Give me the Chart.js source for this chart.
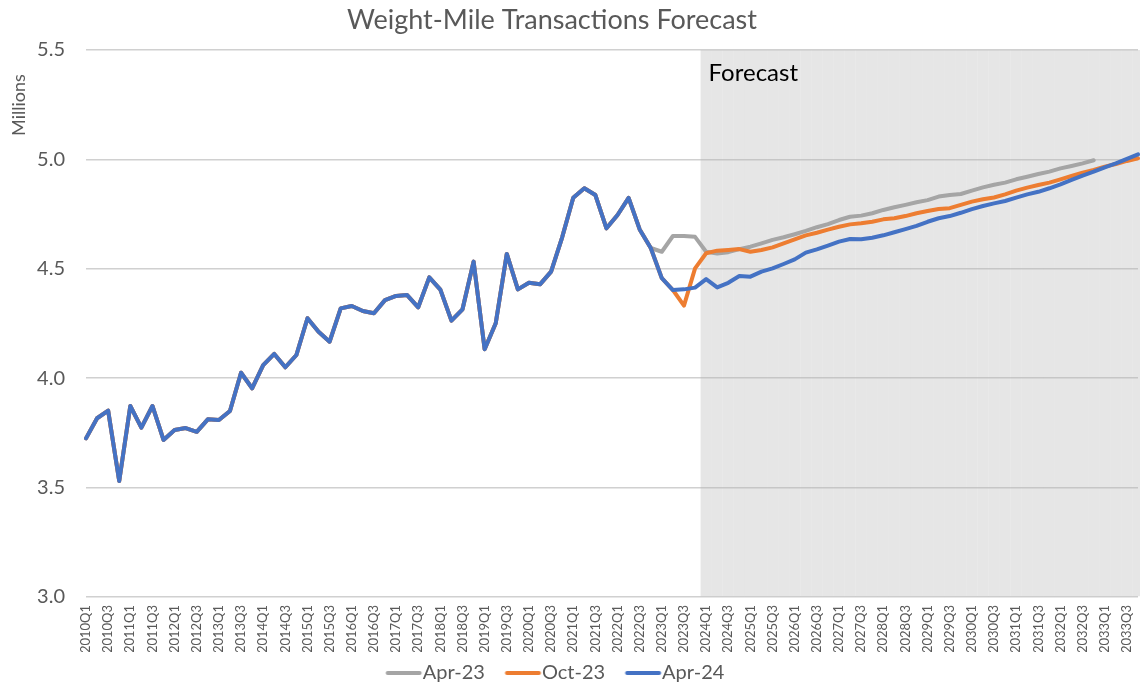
<!DOCTYPE html>
<html>
<head>
<meta charset="utf-8">
<script src="https://cdn.jsdelivr.net/npm/chart.js@4.4.1/dist/chart.umd.min.js"></script>
<style>
html,body{margin:0;padding:0;background:#ffffff;}
#wrap{width:1140px;height:685px;position:relative;}
</style>
</head>
<body>
<div id="wrap"><canvas id="c"></canvas></div>
<script>
// ---- categories ----
const firstYear = 2010;
const lastYear = 2033;
const quarterLabels = [];
for (let y = firstYear; y <= lastYear; y++) {
  for (let q = 1; q <= 4; q++) quarterLabels.push(y + 'Q' + q);
}

// ---- series values (millions) ----
// shared actuals 2010Q1 .. 2022Q4
const actualsTo2022Q4 = [
  3.725, 3.817, 3.852, 3.530, 3.873, 3.774, 3.873, 3.718,
  3.763, 3.772, 3.755, 3.812, 3.809, 3.850, 4.025, 3.954,
  4.060, 4.111, 4.050, 4.106, 4.274, 4.212, 4.167, 4.319,
  4.330, 4.307, 4.297, 4.357, 4.376, 4.380, 4.324, 4.461,
  4.405, 4.263, 4.315, 4.533, 4.132, 4.251, 4.568, 4.406,
  4.436, 4.429, 4.487, 4.644, 4.825, 4.868, 4.837, 4.685,
  4.746, 4.824, 4.680, 4.595
];
// Apr-23 vintage, 2023Q1 .. 2032Q4
const apr23From2023Q1 = [
  4.578, 4.650, 4.650, 4.646, 4.578, 4.570, 4.576, 4.590,
  4.601, 4.616, 4.632, 4.644, 4.658, 4.673, 4.690, 4.704,
  4.723, 4.738, 4.743, 4.754, 4.769, 4.781, 4.792, 4.804,
  4.814, 4.830, 4.837, 4.842, 4.857, 4.872, 4.884, 4.894,
  4.909, 4.921, 4.933, 4.944, 4.959, 4.970, 4.982, 4.996
];
// Oct-23 vintage, 2023Q1 .. 2033Q4
const oct23From2023Q1 = [
  4.457, 4.403, 4.332, 4.502, 4.571, 4.583, 4.586, 4.590,
  4.578, 4.586, 4.598, 4.616, 4.635, 4.653, 4.665, 4.679,
  4.692, 4.703, 4.708, 4.715, 4.726, 4.731, 4.741, 4.754,
  4.764, 4.773, 4.777, 4.792, 4.807, 4.818, 4.826, 4.840,
  4.857, 4.871, 4.883, 4.894, 4.909, 4.924, 4.939, 4.952,
  4.967, 4.979, 4.993, 5.005
];
// Apr-24 vintage, 2023Q1 .. 2033Q4
const apr24From2023Q1 = [
  4.457, 4.403, 4.406, 4.414, 4.453, 4.415, 4.436, 4.467,
  4.464, 4.487, 4.502, 4.522, 4.543, 4.574, 4.589, 4.606,
  4.624, 4.636, 4.635, 4.642, 4.653, 4.667, 4.681, 4.696,
  4.715, 4.731, 4.741, 4.756, 4.773, 4.787, 4.799, 4.810,
  4.825, 4.840, 4.852, 4.868, 4.886, 4.906, 4.926, 4.944,
  4.964, 4.982, 5.002, 5.023
];

const seriesNames = ['Apr-23', 'Oct-23', 'Apr-24'];
const seriesColors = ['#A5A5A5', '#ED7D31', '#4472C4'];
const forecastStart = '2024Q1';
const yMin = 3.0, yMax = 5.5, yStep = 0.5;
const yTickLabels = ['3.0', '3.5', '4.0', '4.5', '5.0', '5.5'];

// ---- build chart data ----
const startIdx = quarterLabels.indexOf(forecastStart);
const bandData = quarterLabels.map((l, i) => (i >= startIdx ? yMax : null));
const vintages = [
  actualsTo2022Q4.concat(apr23From2023Q1),
  actualsTo2022Q4.concat(oct23From2023Q1),
  actualsTo2022Q4.concat(apr24From2023Q1)
];

const FONT = 'Lato, "Liberation Sans", Arial, sans-serif';
const TXT = '#595959';
const LINE_W = 4;

// legend swatch: a short line drawn to the right part of a small canvas
function legendSwatch(color) {
  const c = document.createElement('canvas');
  c.width = 70; c.height = 8;
  const g = c.getContext('2d');
  g.strokeStyle = color;
  g.lineWidth = LINE_W;
  g.lineCap = 'round';
  g.beginPath();
  g.moveTo(23.5, 4);
  g.lineTo(55.5, 4);
  g.stroke();
  return c;
}

const lineSets = vintages.map((d, k) => ({
  type: 'line',
  label: seriesNames[k],
  data: d,
  borderColor: seriesColors[k],
  backgroundColor: seriesColors[k],
  borderWidth: LINE_W,
  pointRadius: 0,
  pointHoverRadius: 0,
  pointStyle: legendSwatch(seriesColors[k]),
  tension: 0,
  borderJoinStyle: 'round',
  borderCapStyle: 'round',
  fill: false,
  order: 3 - k
}));

const bandSet = {
  type: 'bar',
  label: 'Forecast',
  data: bandData,
  backgroundColor: 'rgba(180,180,180,0.333)',
  borderWidth: 0,
  categoryPercentage: 1.0,
  barPercentage: 1.0,
  inflateAmount: 0,
  base: yMin,
  clip: {left: 0, top: 0, right: 10, bottom: 0},
  order: 10
};

const extras = {
  id: 'extras',
  beforeLayout(chart) {
    const lg = chart.legend;
    if (lg && !lg._fixedFit) {
      const fit = lg.fit.bind(lg);
      lg.fit = function () { fit(); this.height = 33; };
      lg._fixedFit = true;
    }
  },
  afterLayout(chart) {
    const t = chart.titleBlock;
    if (t) { t.left = 0; t.right = 1104; }
    const lg = chart.legend;
    if (lg) {
      lg.top = 643; lg.bottom = 685;
      lg.left = 0; lg.right = 1110;
    }
  },
  afterDatasetsDraw(chart) {
    const xs = chart.scales.x;
    const ctx = chart.ctx;
    ctx.save();
    ctx.fillStyle = '#000000';
    ctx.font = '24px ' + FONT;
    ctx.textAlign = 'left';
    ctx.textBaseline = 'middle';
    ctx.fillText('Forecast', xs.getPixelForValue(startIdx - 0.5) + 8, 73);
    ctx.restore();
  },
  afterDraw(chart) {
    const ctx = chart.ctx;
    ctx.save();
    ctx.translate(19, 105);
    ctx.rotate(-Math.PI / 2);
    ctx.fillStyle = TXT;
    ctx.font = '18px ' + FONT;
    ctx.textAlign = 'center';
    ctx.textBaseline = 'middle';
    ctx.fillText('Millions', 0, 0);
    ctx.restore();
  }
};

new Chart(document.getElementById('c'), {
  type: 'line',
  data: {
    labels: quarterLabels,
    datasets: lineSets.concat([bandSet])
  },
  options: {
    responsive: true,
    maintainAspectRatio: false,
    animation: false,
    devicePixelRatio: 1,
    layout: {padding: {left: 0, right: 2, top: 0, bottom: 0}},
    plugins: {
      title: {
        display: true,
        text: 'Weight-Mile Transactions Forecast',
        color: TXT,
        font: {family: FONT, size: 27, weight: 'normal'},
        padding: {top: 4, bottom: 13.6}
      },
      legend: {
        display: true,
        position: 'bottom',
        labels: {
          color: TXT,
          font: {family: FONT, size: 20},
          usePointStyle: true,
          pointStyleWidth: 27,
          padding: 20,
          filter: (item) => item.text !== 'Forecast',
          sort: (a, b) => a.datasetIndex - b.datasetIndex
        }
      },
      tooltip: {enabled: false}
    },
    scales: {
      x: {
        type: 'category',
        offset: false,
        grid: {display: false, drawTicks: false, offset: false},
        border: {display: false},
        ticks: {
          autoSkip: false,
          maxRotation: 90,
          minRotation: 90,
          padding: 8,
          color: TXT,
          font: {family: FONT, size: 13},
          callback: (v, i) => (i % 2 === 0 ? quarterLabels[i] : '')
        },
        afterFit: (s) => {
          s.height = 55;
          s.paddingLeft = 0;
          s.paddingRight = 0;
        }
      },
      y: {
        min: yMin,
        max: yMax,
        grid: {color: '#d0d0d0', lineWidth: 1.5, drawTicks: false},
        border: {display: false},
        ticks: {
          stepSize: yStep,
          padding: 21,
          color: TXT,
          font: {family: FONT, size: 20},
          callback: (v) => {
            const k = Math.round((v - yMin) / yStep);
            return yTickLabels[k] !== undefined ? yTickLabels[k] : '';
          }
        },
        afterFit: (s) => { s.width = 86; }
      }
    }
  },
  plugins: [extras]
});
</script>
</body>
</html>
